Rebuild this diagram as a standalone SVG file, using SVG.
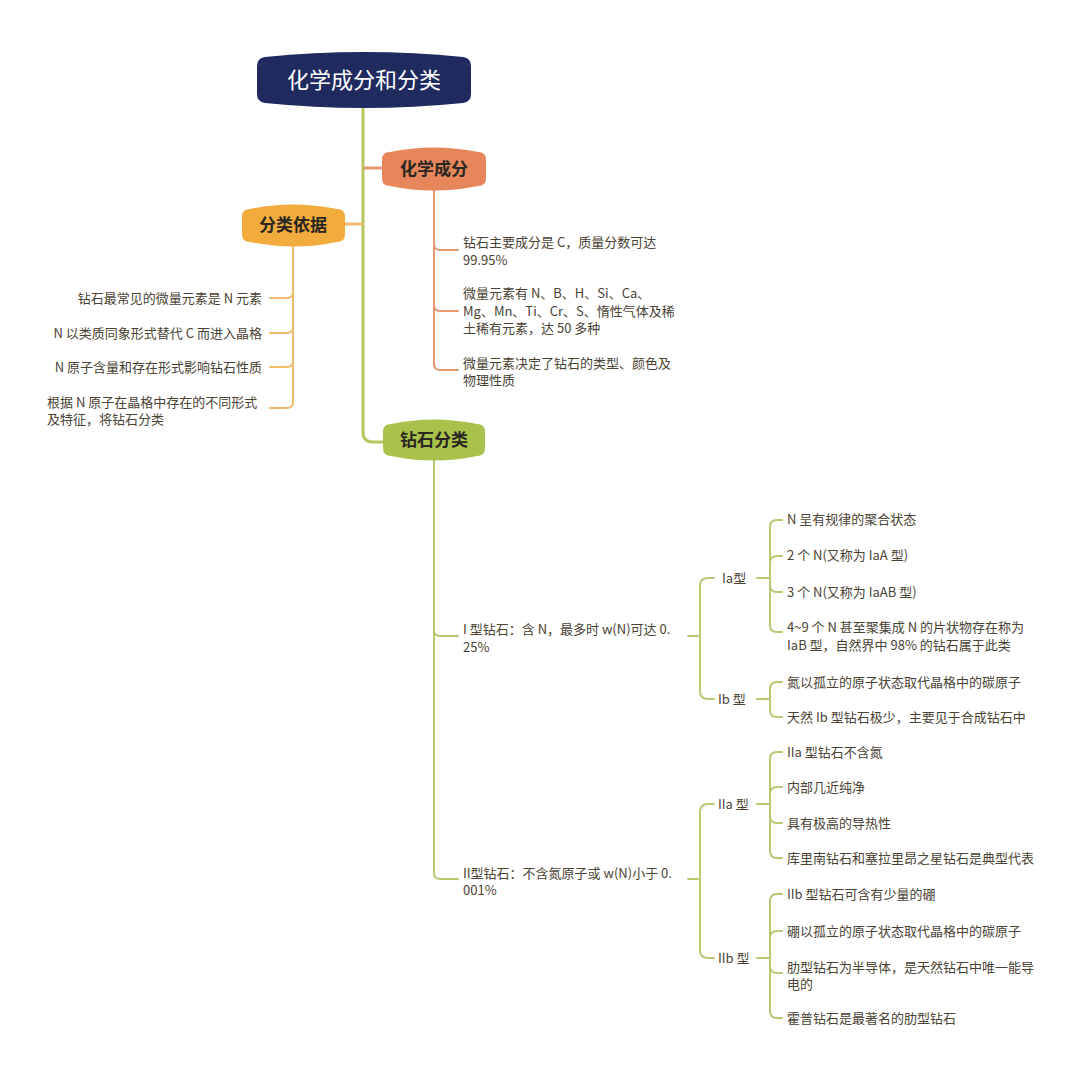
<svg xmlns="http://www.w3.org/2000/svg" width="1080" height="1075" viewBox="0 0 1080 1075">
<style>
text{font-family:"Noto Sans CJK SC","Noto Sans",sans-serif;}
.t{font-size:13px;fill:#4a4233;}
.lab{font-size:17px;font-weight:bold;fill:#2a2622;text-anchor:middle;}
.root{font-size:22px;font-weight:400;fill:#ffffff;text-anchor:middle;}
.g{fill:none;stroke:#b7c972;stroke-width:2;stroke-linecap:round;}
.gt{fill:none;stroke:#b5c860;stroke-width:3;}
.o{fill:none;stroke:#e39a72;stroke-width:2;stroke-linecap:round;}
.y{fill:none;stroke:#f0bd6e;stroke-width:2;stroke-linecap:round;}
</style>
<rect width="1080" height="1075" fill="#ffffff"/>
<g id="connectors">
  <path class="gt" d="M363 106 V432 Q363 442 373 442 H384"/>
  <path class="o" d="M364 168 H382" style="stroke-width:3"/>
  <path class="y" d="M345 224 H362" style="stroke-width:3"/>
  <path class="y" d="M293 246 V292 Q293 298 287 298 H270"/>
  <path class="y" d="M293 246 V327 Q293 333 287 333 H270"/>
  <path class="y" d="M293 246 V361 Q293 367 287 367 H270"/>
  <path class="y" d="M293 246 V402 Q293 408 287 408 H270"/>
  <path class="o" d="M434 190 V244 Q434 250 440 250 H458"/>
  <path class="o" d="M434 190 V305 Q434 311 440 311 H458"/>
  <path class="o" d="M434 190 V364 Q434 370 440 370 H458"/>
  <path class="g" d="M434 459 V630 Q434 636 440 636 H458"/>
  <path class="g" d="M434 459 V873 Q434 879 440 879 H458"/>
  <path class="g" d="M688 636 H700"/>
  <path class="g" d="M700 636 V586 Q700 578 708 578 H714"/>
  <path class="g" d="M700 636 V691 Q700 699 708 699 H714"/>
  <path class="g" d="M757 578 H770"/>
  <path class="g" d="M770 578 V527 Q770 520 777 520 H782"/>
  <path class="g" d="M770 578 V563 Q770 556 777 556 H782"/>
  <path class="g" d="M770 578 V585 Q770 592 777 592 H782"/>
  <path class="g" d="M770 578 V625 Q770 632 777 632 H782"/>
  <path class="g" d="M757 699 H770"/>
  <path class="g" d="M770 699 V689 Q770 682 777 682 H782"/>
  <path class="g" d="M770 699 V710 Q770 717 777 717 H782"/>
  <path class="g" d="M688 879 H700"/>
  <path class="g" d="M700 879 V812 Q700 804 708 804 H714"/>
  <path class="g" d="M700 879 V950 Q700 958 708 958 H714"/>
  <path class="g" d="M757 804 H770"/>
  <path class="g" d="M770 804 V759 Q770 752 777 752 H782"/>
  <path class="g" d="M770 804 V794 Q770 787 777 787 H782"/>
  <path class="g" d="M770 804 V816 Q770 823 777 823 H782"/>
  <path class="g" d="M770 804 V851 Q770 858 777 858 H782"/>
  <path class="g" d="M757 958 H770"/>
  <path class="g" d="M770 958 V901 Q770 894 777 894 H782"/>
  <path class="g" d="M770 958 V938 Q770 931 777 931 H782"/>
  <path class="g" d="M770 958 V966 Q770 973 777 973 H782"/>
  <path class="g" d="M770 958 V1011 Q770 1018 777 1018 H782"/>
</g>
<g id="root">
  <path fill="#1f2a5f" d="M265 57 Q364 47 463 57 Q471 58 471 66 V94 Q471 102 463 103 Q364 113 265 103 Q257 102 257 94 V66 Q257 58 265 57 Z"/>
  <text class="root" x="364" y="88">化学成分和分类</text>
</g>
<g id="n-huaxue">
  <path fill="#e8865b" d="M390 152 Q434 143 478 152 Q486 152 486 160 V178 Q486 186 478 186 Q434 195 390 186 Q382 186 382 178 V160 Q382 152 390 152 Z"/>
  <text class="lab" x="434" y="175">化学成分</text>
</g>
<g id="n-fenlei-yiju">
  <path fill="#f2ab3d" d="M250 209 Q293 200 337 209 Q345 209 345 217 V234 Q345 242 337 242 Q293 251 250 242 Q242 242 242 234 V217 Q242 209 250 209 Z"/>
  <text class="lab" x="293" y="231">分类依据</text>
</g>
<g id="n-zuanshi-fenlei">
  <path fill="#a9c24b" d="M391 424 Q434 415 477 424 Q485 424 485 432 V448 Q485 456 477 456 Q434 465 391 456 Q383 456 383 448 V432 Q383 424 391 424 Z"/>
  <text class="lab" x="434" y="446">钻石分类</text>
</g>
<g id="yiju-children">
  <text class="t" x="262" y="303" text-anchor="end">钻石最常见的微量元素是 N 元素</text>
  <text class="t" x="262" y="338" text-anchor="end">N 以类质同象形式替代 C 而进入晶格</text>
  <text class="t" x="262" y="372" text-anchor="end">N 原子含量和存在形式影响钻石性质</text>
  <text class="t" x="47" y="407">根据 N 原子在晶格中存在的不同形式</text>
  <text class="t" x="47" y="424">及特征，将钻石分类</text>
</g>
<g id="huaxue-children">
  <text class="t" x="463" y="247">钻石主要成分是 C，质量分数可达</text>
  <text class="t" x="463" y="265">99.95%</text>
  <text class="t" x="463" y="298">微量元素有 N、B、H、Si、Ca、</text>
  <text class="t" x="463" y="316">Mg、Mn、Ti、Cr、S、惰性气体及稀</text>
  <text class="t" x="463" y="333">土稀有元素，达 50 多种</text>
  <text class="t" x="463" y="368">微量元素决定了钻石的类型、颜色及</text>
  <text class="t" x="463" y="385">物理性质</text>
</g>
<g id="type-I">
  <text class="t" x="463" y="634">I 型钻石：含 N，最多时 w(N)可达 0.</text>
  <text class="t" x="463" y="652">25%</text>
</g>
<g id="type-Ia">
  <text class="t" x="722" y="583">Ia型</text>
  <text class="t" x="787" y="524">N 呈有规律的聚合状态</text>
  <text class="t" x="787" y="560"> 2 个 N(又称为 IaA 型)</text>
  <text class="t" x="787" y="597">3 个 N(又称为 IaAB 型)</text>
  <text class="t" x="787" y="632">4~9 个 N 甚至聚集成 N 的片状物存在称为</text>
  <text class="t" x="787" y="650">IaB 型，自然界中 98% 的钻石属于此类</text>
</g>
<g id="type-Ib">
  <text class="t" x="718" y="704">Ib 型</text>
  <text class="t" x="787" y="687">氮以孤立的原子状态取代晶格中的碳原子</text>
  <text class="t" x="787" y="722">天然 Ib 型钻石极少，主要见于合成钻石中</text>
</g>
<g id="type-II">
  <text class="t" x="463" y="878">II型钻石：不含氮原子或 w(N)小于 0.</text>
  <text class="t" x="463" y="895">001%</text>
</g>
<g id="type-IIa">
  <text class="t" x="718" y="809">IIa 型</text>
  <text class="t" x="787" y="757">IIa 型钻石不含氮</text>
  <text class="t" x="787" y="792">内部几近纯净</text>
  <text class="t" x="787" y="828">具有极高的导热性</text>
  <text class="t" x="787" y="863">库里南钻石和塞拉里昂之星钻石是典型代表</text>
</g>
<g id="type-IIb">
  <text class="t" x="718" y="963">IIb 型</text>
  <text class="t" x="787" y="899">IIb 型钻石可含有少量的硼</text>
  <text class="t" x="787" y="936">硼以孤立的原子状态取代晶格中的碳原子</text>
  <text class="t" x="787" y="972">肋型钻石为半导体，是天然钻石中唯一能导</text>
  <text class="t" x="787" y="989">电的</text>
  <text class="t" x="787" y="1023">霍普钻石是最著名的肋型钻石</text>
</g>
</svg>
